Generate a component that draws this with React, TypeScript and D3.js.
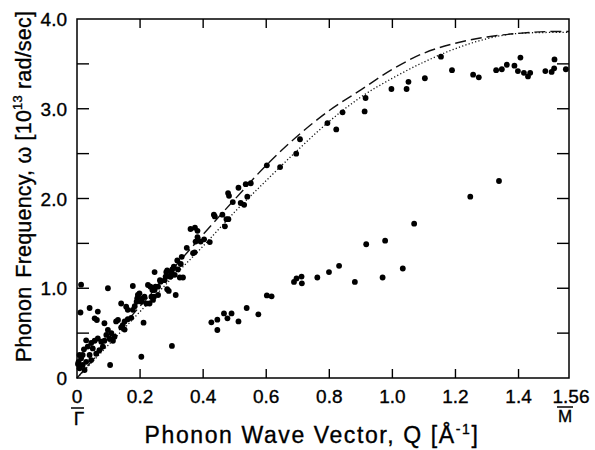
import React from "react";
import * as d3 from "d3";

// ---- data ----
const xTicks = [0, 0.2, 0.4, 0.6, 0.8, 1.0, 1.2, 1.4, 1.56];
const xTickLabels = ["0", "0.2", "0.4", "0.6", "0.8", "1.0", "1.2", "1.4", "1.56"];
const yMajorTicks = [0, 1, 2, 3, 4];
const yTickLabels = ["0", "1.0", "2.0", "3.0", "4.0"];
const yMinorTicks = [0.5, 1, 1.5, 2, 2.5, 3, 3.5];
const topTicks = [0.2, 0.4, 0.6, 0.8, 1.0, 1.2, 1.4];

const upperBranch: [number, number][] = [
  [0.003, 0.156], [0.005, 0.18], [0.008, 0.108], [0.008, 0.256], [0.013, 0.22], [0.013, 1.04],
  [0.011, 0.73], [0.018, 0.145], [0.018, 0.256], [0.022, 0.32], [0.024, 0.089], [0.029, 0.18],
  [0.029, 0.42], [0.034, 0.35], [0.040, 0.256], [0.040, 0.78], [0.045, 0.20], [0.045, 0.39],
  [0.050, 0.33], [0.056, 0.415], [0.056, 0.665], [0.061, 0.27], [0.063, 0.646], [0.066, 0.44],
  [0.066, 0.74], [0.071, 0.31], [0.077, 0.405], [0.082, 0.35], [0.087, 0.415], [0.087, 0.61],
  [0.093, 0.48], [0.098, 0.535], [0.098, 1.0], [0.103, 0.44], [0.105, 0.145], [0.109, 0.50],
  [0.114, 0.415], [0.119, 0.46], [0.124, 0.63], [0.130, 0.646], [0.140, 0.83], [0.140, 0.565],
  [0.145, 0.59], [0.151, 0.63], [0.151, 0.54], [0.156, 0.795], [0.161, 0.76], [0.161, 0.655],
  [0.172, 0.67], [0.177, 0.76], [0.177, 1.025], [0.183, 0.80], [0.189, 0.85], [0.191, 0.888],
  [0.193, 0.925], [0.198, 0.944], [0.204, 0.85], [0.204, 0.237], [0.207, 0.888], [0.211, 0.616],
  [0.214, 0.906], [0.220, 0.83], [0.225, 1.036], [0.230, 0.83], [0.233, 1.017], [0.236, 0.906],
  [0.239, 0.98], [0.241, 0.87], [0.244, 0.906], [0.246, 0.98], [0.246, 1.18], [0.249, 1.017],
  [0.257, 0.925], [0.257, 1.017], [0.263, 1.09], [0.265, 1.073], [0.278, 1.09], [0.281, 1.13],
  [0.283, 1.18], [0.286, 0.99], [0.286, 1.20], [0.291, 0.97], [0.294, 1.13], [0.297, 1.13],
  [0.299, 1.18], [0.301, 0.357], [0.302, 1.21], [0.307, 1.24], [0.310, 1.15], [0.313, 0.925],
  [0.318, 1.31], [0.320, 1.21], [0.326, 1.12], [0.329, 1.27], [0.332, 1.35], [0.336, 1.12],
  [0.348, 1.45], [0.360, 1.66], [0.368, 1.39], [0.373, 1.40], [0.374, 1.675], [0.376, 1.52],
  [0.382, 1.64], [0.382, 1.57], [0.392, 1.52], [0.403, 1.545], [0.421, 1.515], [0.434, 1.82],
  [0.437, 1.80], [0.461, 1.82], [0.469, 1.69], [0.474, 1.77], [0.480, 1.77], [0.479, 2.06],
  [0.482, 2.03], [0.494, 1.96], [0.512, 2.12], [0.519, 1.95], [0.530, 1.93], [0.535, 2.16],
  [0.540, 2.02], [0.551, 2.17], [0.602, 2.37], [0.644, 2.35], [0.695, 2.50], [0.707, 2.66],
  [0.794, 2.84], [0.822, 2.77], [0.842, 2.96], [0.912, 2.97], [0.915, 3.12], [0.997, 3.22],
  [1.045, 3.22], [1.051, 3.30], [1.103, 3.34], [1.154, 3.58], [1.189, 3.43], [1.256, 3.38],
  [1.274, 3.35], [1.329, 3.43], [1.347, 3.44], [1.363, 3.49], [1.387, 3.48], [1.398, 3.42],
  [1.406, 3.57], [1.417, 3.40], [1.430, 3.36], [1.437, 3.40], [1.485, 3.42], [1.505, 3.41],
  [1.513, 3.45], [1.514, 3.55], [1.550, 3.44],
];

const lowerBranch: [number, number][] = [
  [0.426, 0.62], [0.445, 0.65], [0.445, 0.535], [0.466, 0.72], [0.477, 0.665], [0.490, 0.72],
  [0.512, 0.63], [0.538, 0.78], [0.575, 0.71], [0.602, 0.92], [0.617, 0.91], [0.688, 1.07],
  [0.696, 1.11], [0.712, 1.13], [0.713, 1.055], [0.762, 1.12], [0.799, 1.18], [0.831, 1.25],
  [0.881, 1.07], [0.917, 1.49], [0.969, 1.12], [0.977, 1.53], [1.033, 1.22], [1.069, 1.72],
  [1.247, 2.02], [1.338, 2.195],
];

const dashedCurve: [number, number][] = [
  [0, 0], [0.1, 0.40], [0.2, 0.80], [0.3, 1.20], [0.4, 1.60], [0.5, 1.99], [0.6, 2.37],
  [0.7, 2.70], [0.8, 2.98], [0.9, 3.21], [1.0, 3.44], [1.1, 3.62], [1.2, 3.73], [1.3, 3.80],
  [1.4, 3.84], [1.5, 3.86], [1.56, 3.86],
];

const dottedCurve: [number, number][] = [
  [0, 0], [0.1, 0.37], [0.2, 0.74], [0.3, 1.11], [0.4, 1.47], [0.5, 1.85], [0.6, 2.20],
  [0.7, 2.54], [0.8, 2.86], [0.9, 3.13], [1.0, 3.34], [1.1, 3.52], [1.2, 3.67], [1.3, 3.78],
  [1.4, 3.84], [1.5, 3.85], [1.56, 3.85],
];

const W = 595;
const H = 450;
const L = 77, R = 569, T = 19, B = 378;
const FONT = "'Liberation Sans', Arial, sans-serif";
const textStroke = { stroke: "#000", strokeWidth: 0.35 };

export default function App() {
  const x = d3.scaleLinear().domain([0, 1.56]).range([L, R]);
  const y = d3.scaleLinear().domain([0, 4]).range([B, T]);
  const line = d3
    .line<[number, number]>()
    .x((d) => x(d[0]))
    .y((d) => y(d[1]))
    .curve(d3.curveMonotoneX);

  return (
    <svg
      width={W}
      height={H}
      viewBox={`0 0 ${W} ${H}`}
      style={{ position: "absolute", left: 0, top: 0, display: "block", background: "#fff" }}
    >
      <rect x={0} y={0} width={W} height={H} fill="#fff" />
      {/* curves */}
      <path d={line(dashedCurve) || ""} fill="none" stroke="#111" strokeWidth={1.4} strokeDasharray="11,5" />
      <path d={line(dottedCurve) || ""} fill="none" stroke="#111" strokeWidth={1.3} strokeDasharray="1.2,2.2" />

      {/* points */}
      {upperBranch.map((d, i) => (
        <circle key={"u" + i} cx={x(d[0])} cy={y(d[1])} r={2.9} fill="#000" />
      ))}
      {lowerBranch.map((d, i) => (
        <circle key={"l" + i} cx={x(d[0])} cy={y(d[1])} r={2.9} fill="#000" />
      ))}

      {/* frame */}
      <rect x={L} y={T} width={R - L} height={B - T} fill="none" stroke="#000" strokeWidth={1.5} />

      {/* ticks */}
      {topTicks.map((t) => (
        <g key={"tk" + t}>
          <line x1={x(t)} x2={x(t)} y1={B} y2={B - 9} stroke="#000" strokeWidth={1.4} />
          <line x1={x(t)} x2={x(t)} y1={T} y2={T + 9} stroke="#000" strokeWidth={1.4} />
        </g>
      ))}
      {yMinorTicks.map((t) => (
        <g key={"yt" + t}>
          <line x1={L} x2={L + 12} y1={y(t)} y2={y(t)} stroke="#000" strokeWidth={1.4} />
          <line x1={R} x2={R - 12} y1={y(t)} y2={y(t)} stroke="#000" strokeWidth={1.4} />
        </g>
      ))}

      {/* x tick labels */}
      {xTicks.map((t, i) => (
        <text
          key={"xl" + t}
          x={x(t) + (t === 1.56 ? 2 : 0)}
          y={403}
          textAnchor="middle"
          fontFamily={FONT}
          fontSize={19}
          fill="#000"
          {...textStroke}
        >
          {xTickLabels[i]}
        </text>
      ))}

      {/* y tick labels */}
      {yMajorTicks.map((t, i) => (
        <text
          key={"yl" + t}
          x={67}
          y={y(t) + 7}
          textAnchor="end"
          fontFamily={FONT}
          fontSize={19}
          fill="#000"
          {...textStroke}
        >
          {yTickLabels[i]}
        </text>
      ))}

      {/* symmetry points */}
      <line x1={x(0) - 6} x2={x(0) + 7} y1={408} y2={408} stroke="#000" strokeWidth={1.5} />
      <text x={x(0) + 2} y={425} textAnchor="middle" fontFamily={FONT} fontSize={19} fill="#000" {...textStroke}>
        Γ
      </text>
      <line x1={x(1.56) - 12} x2={x(1.56) + 4} y1={407} y2={407} stroke="#000" strokeWidth={1.5} />
      <text x={x(1.56) - 4} y={422} textAnchor="middle" fontFamily={FONT} fontSize={17} fill="#000" {...textStroke}>
        M
      </text>

      {/* x label */}
      <text
        x={312}
        y={443}
        textAnchor="middle"
        fontFamily={FONT}
        fontSize={23}
        letterSpacing={1.6}
        fill="#000"
        {...textStroke}
      >
        Phonon Wave Vector, Q [Å
        <tspan fontSize={14} dy={-9}>-1</tspan>
        <tspan dy={9}>]</tspan>
      </text>

      {/* y label */}
      <text
        transform="translate(31,362) rotate(-90)"
        textAnchor="start"
        fontFamily={FONT}
        fontSize={21.5}
        letterSpacing={0.2}
        fill="#000"
        {...textStroke}
      >
        Phonon
        <tspan dx={9}>Frequency, ω [10</tspan>
        <tspan fontSize={13} dy={-9}>13</tspan>
        <tspan dy={9} dx={6}>rad/sec]</tspan>
      </text>
    </svg>
  );
}
